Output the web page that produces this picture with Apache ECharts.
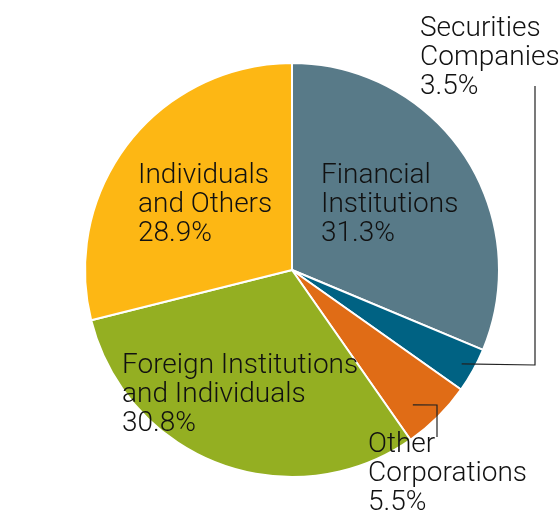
<!DOCTYPE html>
<html><head><meta charset="utf-8">
<script src="https://cdn.jsdelivr.net/npm/echarts@6/dist/echarts.min.js"></script>
<style>html,body{margin:0;padding:0;background:#fff}#c{width:560px;height:520px}</style>
</head><body><div id="c"></div>
<script>
const categories = ["Financial\nInstitutions", "Securities\nCompanies", "Other\nCorporations", "Foreign Institutions\nand Individuals", "Individuals\nand Others"];
const values = [31.3, 3.5, 5.5, 30.8, 28.9];
const colors = ["#587a88", "#006283", "#e06c16", "#94af22", "#fdb714"];

// layout (not data): label box top-left
const labelPos = [[321, 161], [420, 14], [368, 430], [122, 351], [138, 161]];
// leader lines: anchor inside slice (fraction along slice angle, fraction of radius), elbow, end
const leaderCfg = [null, { f: 0.5, r: 0.937, elbow: [535, 365], end: [535, 86] }, { f: 0.65, r: 0.875, elbow: [437, 405], end: [437, 437] }, null, null];

const CX = 292, CY = 270, R = 207;
const total = values.reduce((a, b) => a + b, 0);
let acc = 0;
const graphics = [];
values.forEach((v, i) => {
  const a0 = acc; acc += v;
  const cfg = leaderCfg[i];
  if (!cfg) return;
  const frac = (a0 + v * cfg.f) / total;
  const ang = (90 - 360 * frac) * Math.PI / 180;
  const p0 = [CX + R * cfg.r * Math.cos(ang), CY - R * cfg.r * Math.sin(ang)];
  graphics.push({
    type: 'polyline', z: 100, zlevel: 1,
    shape: { points: [p0, cfg.elbow, cfg.end] },
    style: { stroke: '#222', lineWidth: 1.2, fill: null }
  });
});

const chart = echarts.init(document.getElementById('c'));
chart.setOption({
  animation: false,
  graphic: { elements: graphics },
  series: [{
    type: 'pie',
    z: 1,
    center: [CX, CY],
    radius: R,
    startAngle: 90,
    clockwise: true,
    itemStyle: { borderColor: '#fff', borderWidth: 2 },
    label: {
      position: 'inside',
      fontFamily: 'Roboto', fontWeight: 300, fontSize: 28, lineHeight: 29, color: '#111',
      align: 'left', verticalAlign: 'top', overflow: 'none',
      formatter: p => p.name + '\n' + p.value.toFixed(1) + '%'
    },
    labelLine: { show: false },
    labelLayout: function (p) {
      const i = p.dataIndex;
      return { x: labelPos[i][0], y: labelPos[i][1], align: 'left', verticalAlign: 'top' };
    },
    data: categories.map((c, i) => ({
      name: c, value: values[i],
      itemStyle: { color: colors[i] }
    }))
  }]
});
</script></body></html>
